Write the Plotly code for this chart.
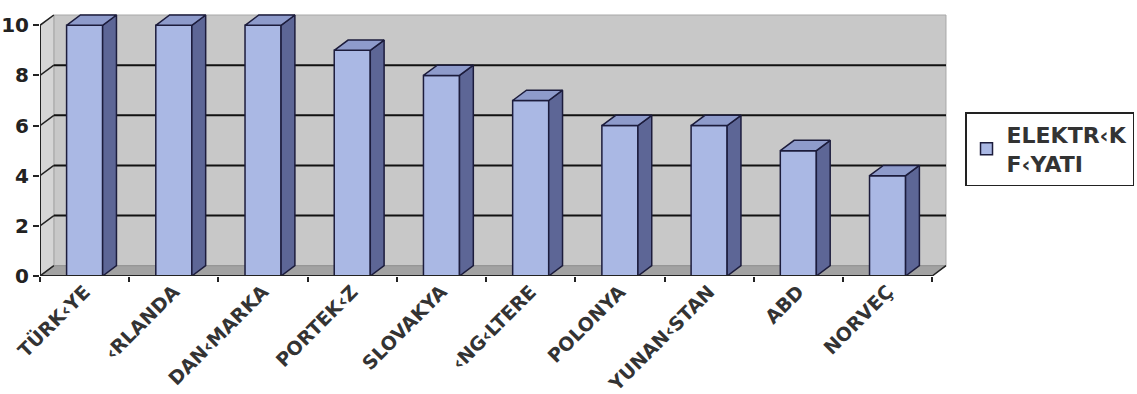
import plotly.graph_objects as go

countries = ["TÜRK‹YE", "‹RLANDA", "DAN‹MARKA", "PORTEK‹Z", "SLOVAKYA",
             "‹NG‹LTERE", "POLONYA", "YUNAN‹STAN", "ABD", "NORVEÇ"]
prices = [10, 10, 10, 9, 8, 7, 6, 6, 5, 4]
y_ticks = [0, 2, 4, 6, 8, 10]
series_name = "ELEKTR‹K<br>F‹YATI"

# pseudo-3D styling
DX, DY = 0.155, 0.41   # depth offset in data units
BW = 0.404             # bar width
FRONT = "#aab8e4"
SIDE = "#5d6696"
TOP = "#8e9bcb"
EDGE = "#1c1c3c"
WALL = "#c8c8c8"
FLOOR = "#a2a2a2"
SIDEWALL = "#d5d5d5"

n = len(countries)
pos = list(range(n))
x0, x1 = -0.5, n - 0.5
ymax = max(y_ticks)

fig = go.Figure()

shapes = []
# back wall
shapes.append(dict(type="rect", xref="x", yref="y", x0=x0 + DX, x1=x1 + DX, y0=DY, y1=ymax + DY,
                   fillcolor=WALL, line=dict(color="#a8a8a8", width=1), layer="below"))
# left side wall
shapes.append(dict(type="path", xref="x", yref="y",
                   path=f"M {x0},0 L {x0+DX},{DY} L {x0+DX},{ymax+DY} L {x0},{ymax} Z",
                   fillcolor=SIDEWALL, line=dict(color="#a8a8a8", width=1), layer="below"))
# floor
shapes.append(dict(type="path", xref="x", yref="y",
                   path=f"M {x0},0 L {x1},0 L {x1+DX},{DY} L {x0+DX},{DY} Z",
                   fillcolor=FLOOR, line=dict(color="#909090", width=1), layer="below"))
# gridlines on the wall + diagonal tick connectors
for t in y_ticks:
    if 0 < t < ymax:
        shapes.append(dict(type="line", xref="x", yref="y", x0=x0 + DX, x1=x1 + DX, y0=t + DY, y1=t + DY,
                           line=dict(color="#111111", width=2), layer="below"))
    shapes.append(dict(type="line", xref="x", yref="y", x0=x0, x1=x0 + DX, y0=t, y1=t + DY,
                       line=dict(color="#222222", width=1.5), layer="below"))
# front axis lines
shapes.append(dict(type="line", xref="x", yref="y", x0=x0, x1=x0, y0=0, y1=ymax,
                   line=dict(color="#222222", width=2)))
shapes.append(dict(type="line", xref="x", yref="y", x0=x0, x1=x1, y0=0, y1=0,
                   line=dict(color="#222222", width=2)))
shapes.append(dict(type="line", xref="x", yref="y", x0=x1, x1=x1 + DX, y0=0, y1=DY,
                   line=dict(color="#222222", width=1.5)))

# front faces
fig.add_trace(go.Bar(x=pos, y=prices, width=BW, name=series_name,
                     marker=dict(color=FRONT, line=dict(color=EDGE, width=1.5)),
                     showlegend=True, hoverinfo="skip"))

# side and top faces
sx, sy = [], []
tx, ty = [], []
for p, v in zip(pos, prices):
    r = p + BW / 2
    l = p - BW / 2
    sx += [r, r + DX, r + DX, r, r, None]
    sy += [0, DY, v + DY, v, 0, None]
    tx += [l, r, r + DX, l + DX, l, None]
    ty += [v, v, v + DY, v + DY, v, None]
fig.add_trace(go.Scatter(x=sx, y=sy, fill="toself", fillcolor=SIDE, mode="lines",
                         line=dict(color=EDGE, width=1.5), showlegend=False, hoverinfo="skip"))
fig.add_trace(go.Scatter(x=tx, y=ty, fill="toself", fillcolor=TOP, mode="lines",
                         line=dict(color=EDGE, width=1.5), showlegend=False, hoverinfo="skip"))

font_fam = "DejaVu Sans, Arial, sans-serif"
fig.update_layout(
    width=1137, height=394,
    margin=dict(l=40, r=187, t=14, b=118, autoexpand=False),
    paper_bgcolor="white", plot_bgcolor="white",
    shapes=shapes,
    showlegend=True,
    legend=dict(x=1.0165, xanchor="left", y=0.625, yanchor="top",
                bordercolor="#222222", borderwidth=1.5, bgcolor="white",
                font=dict(family=font_fam, size=22, color="#333333", weight="bold"),
                itemwidth=30, tracegroupgap=0),
    xaxis=dict(range=[x0, x1 + 0.2], tickmode="array", tickvals=pos, ticktext=countries,
               tickangle=-45, ticks="", showgrid=False, zeroline=False, showline=False,
               tickfont=dict(family=font_fam, size=19, color="#333333", weight="bold"),
               minor=dict(tickmode="array", tickvals=[p - 0.5 for p in pos] + [x1],
                          ticks="outside", ticklen=5, tickcolor="#222222", tickwidth=1.5, showgrid=False)),
    yaxis=dict(range=[0, ymax + 0.45], tickmode="array", tickvals=y_ticks,
               ticks="outside", ticklen=6, tickcolor="#222222", tickwidth=1.5,
               showgrid=False, zeroline=False, showline=False,
               tickfont=dict(family=font_fam, size=20, color="#222222", weight="bold")),
)

fig.write_html("out.html")
